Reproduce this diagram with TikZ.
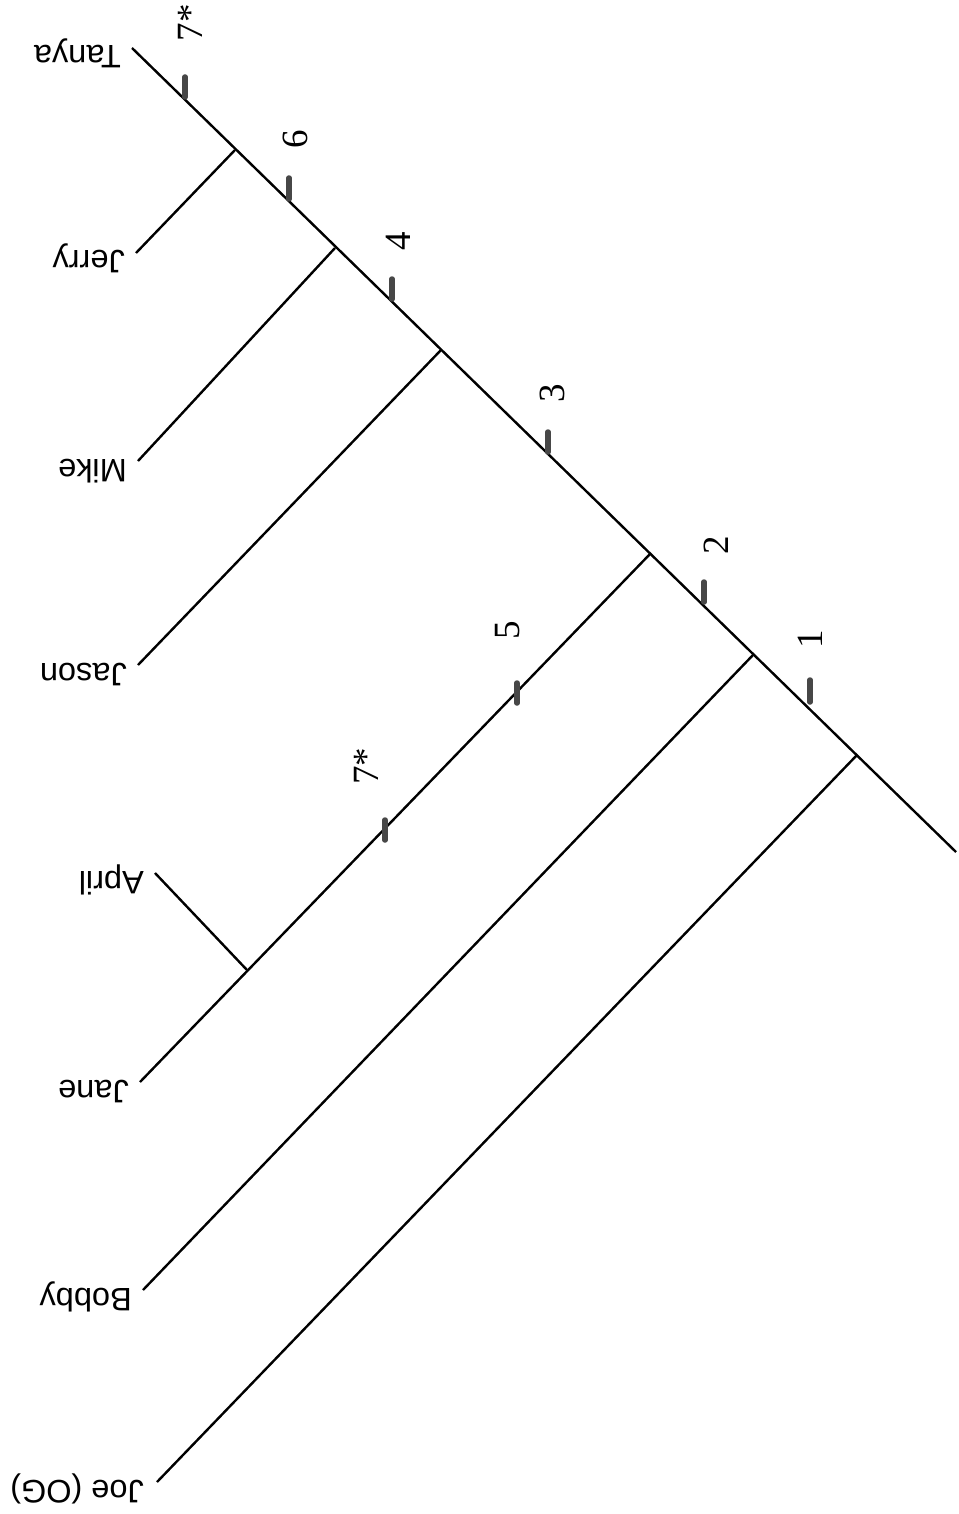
\documentclass[tikz,border=0pt]{standalone}
\usepackage{fontspec}
\setmainfont{Liberation Sans}
\newfontfamily\numfont{Liberation Serif}
\usetikzlibrary{calc}
\begin{document}
\begin{tikzpicture}[x=1pt,y=-1pt,
  branch/.style={line width=2.4pt,black},
  charbar/.style={line width=5.5pt,line cap=round,black!72},
  taxon/.style={anchor=base west,rotate=180,inner sep=0pt,font=\fontsize{32.5}{34}\selectfont},
  charnum/.style={rotate=90,inner sep=0pt,font=\numfont\fontsize{37}{39}\selectfont}]
\useasboundingbox (0,0) rectangle (958,1514);
% root and nodes along the spine
\coordinate (root) at (956,852);
\coordinate (nJoe) at (857,755);
\coordinate (nBobby) at (753,655);
\coordinate (nJane) at (650,554);
\coordinate (nJason) at (441,350);
\coordinate (nMike) at (335,248);
\coordinate (nJerry) at (235,150);
\coordinate (nApril) at (247,970);
% leaf tips
\coordinate (Tanya) at (132,48);
\coordinate (Jerry) at (136,253);
\coordinate (Mike) at (138,461);
\coordinate (Jason) at (138,665);
\coordinate (April) at (155,873);
\coordinate (Jane) at (140,1082);
\coordinate (Bobby) at (143,1290);
\coordinate (Joe) at (157,1482);
% tree
\draw[branch] (root) -- (Tanya);
\draw[branch] (nJerry) -- (Jerry);
\draw[branch] (nMike) -- (Mike);
\draw[branch] (nJason) -- (Jason);
\draw[branch] (nJane) -- (Jane);
\draw[branch] (nApril) -- (April);
\draw[branch] (nBobby) -- (Bobby);
\draw[branch] (nJoe) -- (Joe);
% taxon labels
\node[taxon] (lTanya) at ($(Tanya)+(-11,-2)$) {Tanya};
\node[taxon] (lJerry) at ($(Jerry)+(-11,-2)$) {Jerry};
\node[taxon] (lMike) at ($(Mike)+(-11,-2)$) {Mike};
\node[taxon] (lJason) at ($(Jason)+(-11,-2)$) {Jason};
\node[taxon] (lApril) at ($(April)+(-11,-2)$) {April};
\node[taxon] (lJane) at ($(Jane)+(-11,-2)$) {Jane};
\node[taxon] (lBobby) at ($(Bobby)+(-11,-2)$) {Bobby};
\node[taxon] (lJoe) at ($(Joe)+(-13,-2)$) {Joe (OG)};
% character changes
\draw[charbar] (185,77) -- (185,97);
\draw[charbar] (289,178) -- (289,199);
\draw[charbar] (392,279) -- (392,299);
\draw[charbar] (548,432) -- (548,452);
\draw[charbar] (704,582) -- (704,602);
\draw[charbar] (810,680) -- (810,702);
\draw[charbar] (517,683) -- (517,703);
\draw[charbar] (385,820) -- (385,840);
\node[charnum] (c7a) at (190,23) {7*};
\node[charnum] (c6) at (295,139) {6};
\node[charnum] (c4) at (398,241) {4};
\node[charnum] (c3) at (552,393) {3};
\node[charnum] (c2) at (716,545) {2};
\node[charnum] (c1) at (810,639) {1};
\node[charnum] (c5) at (508,630) {5};
\node[charnum] (c7b) at (366,766) {7*};
\end{tikzpicture}
\end{document}
